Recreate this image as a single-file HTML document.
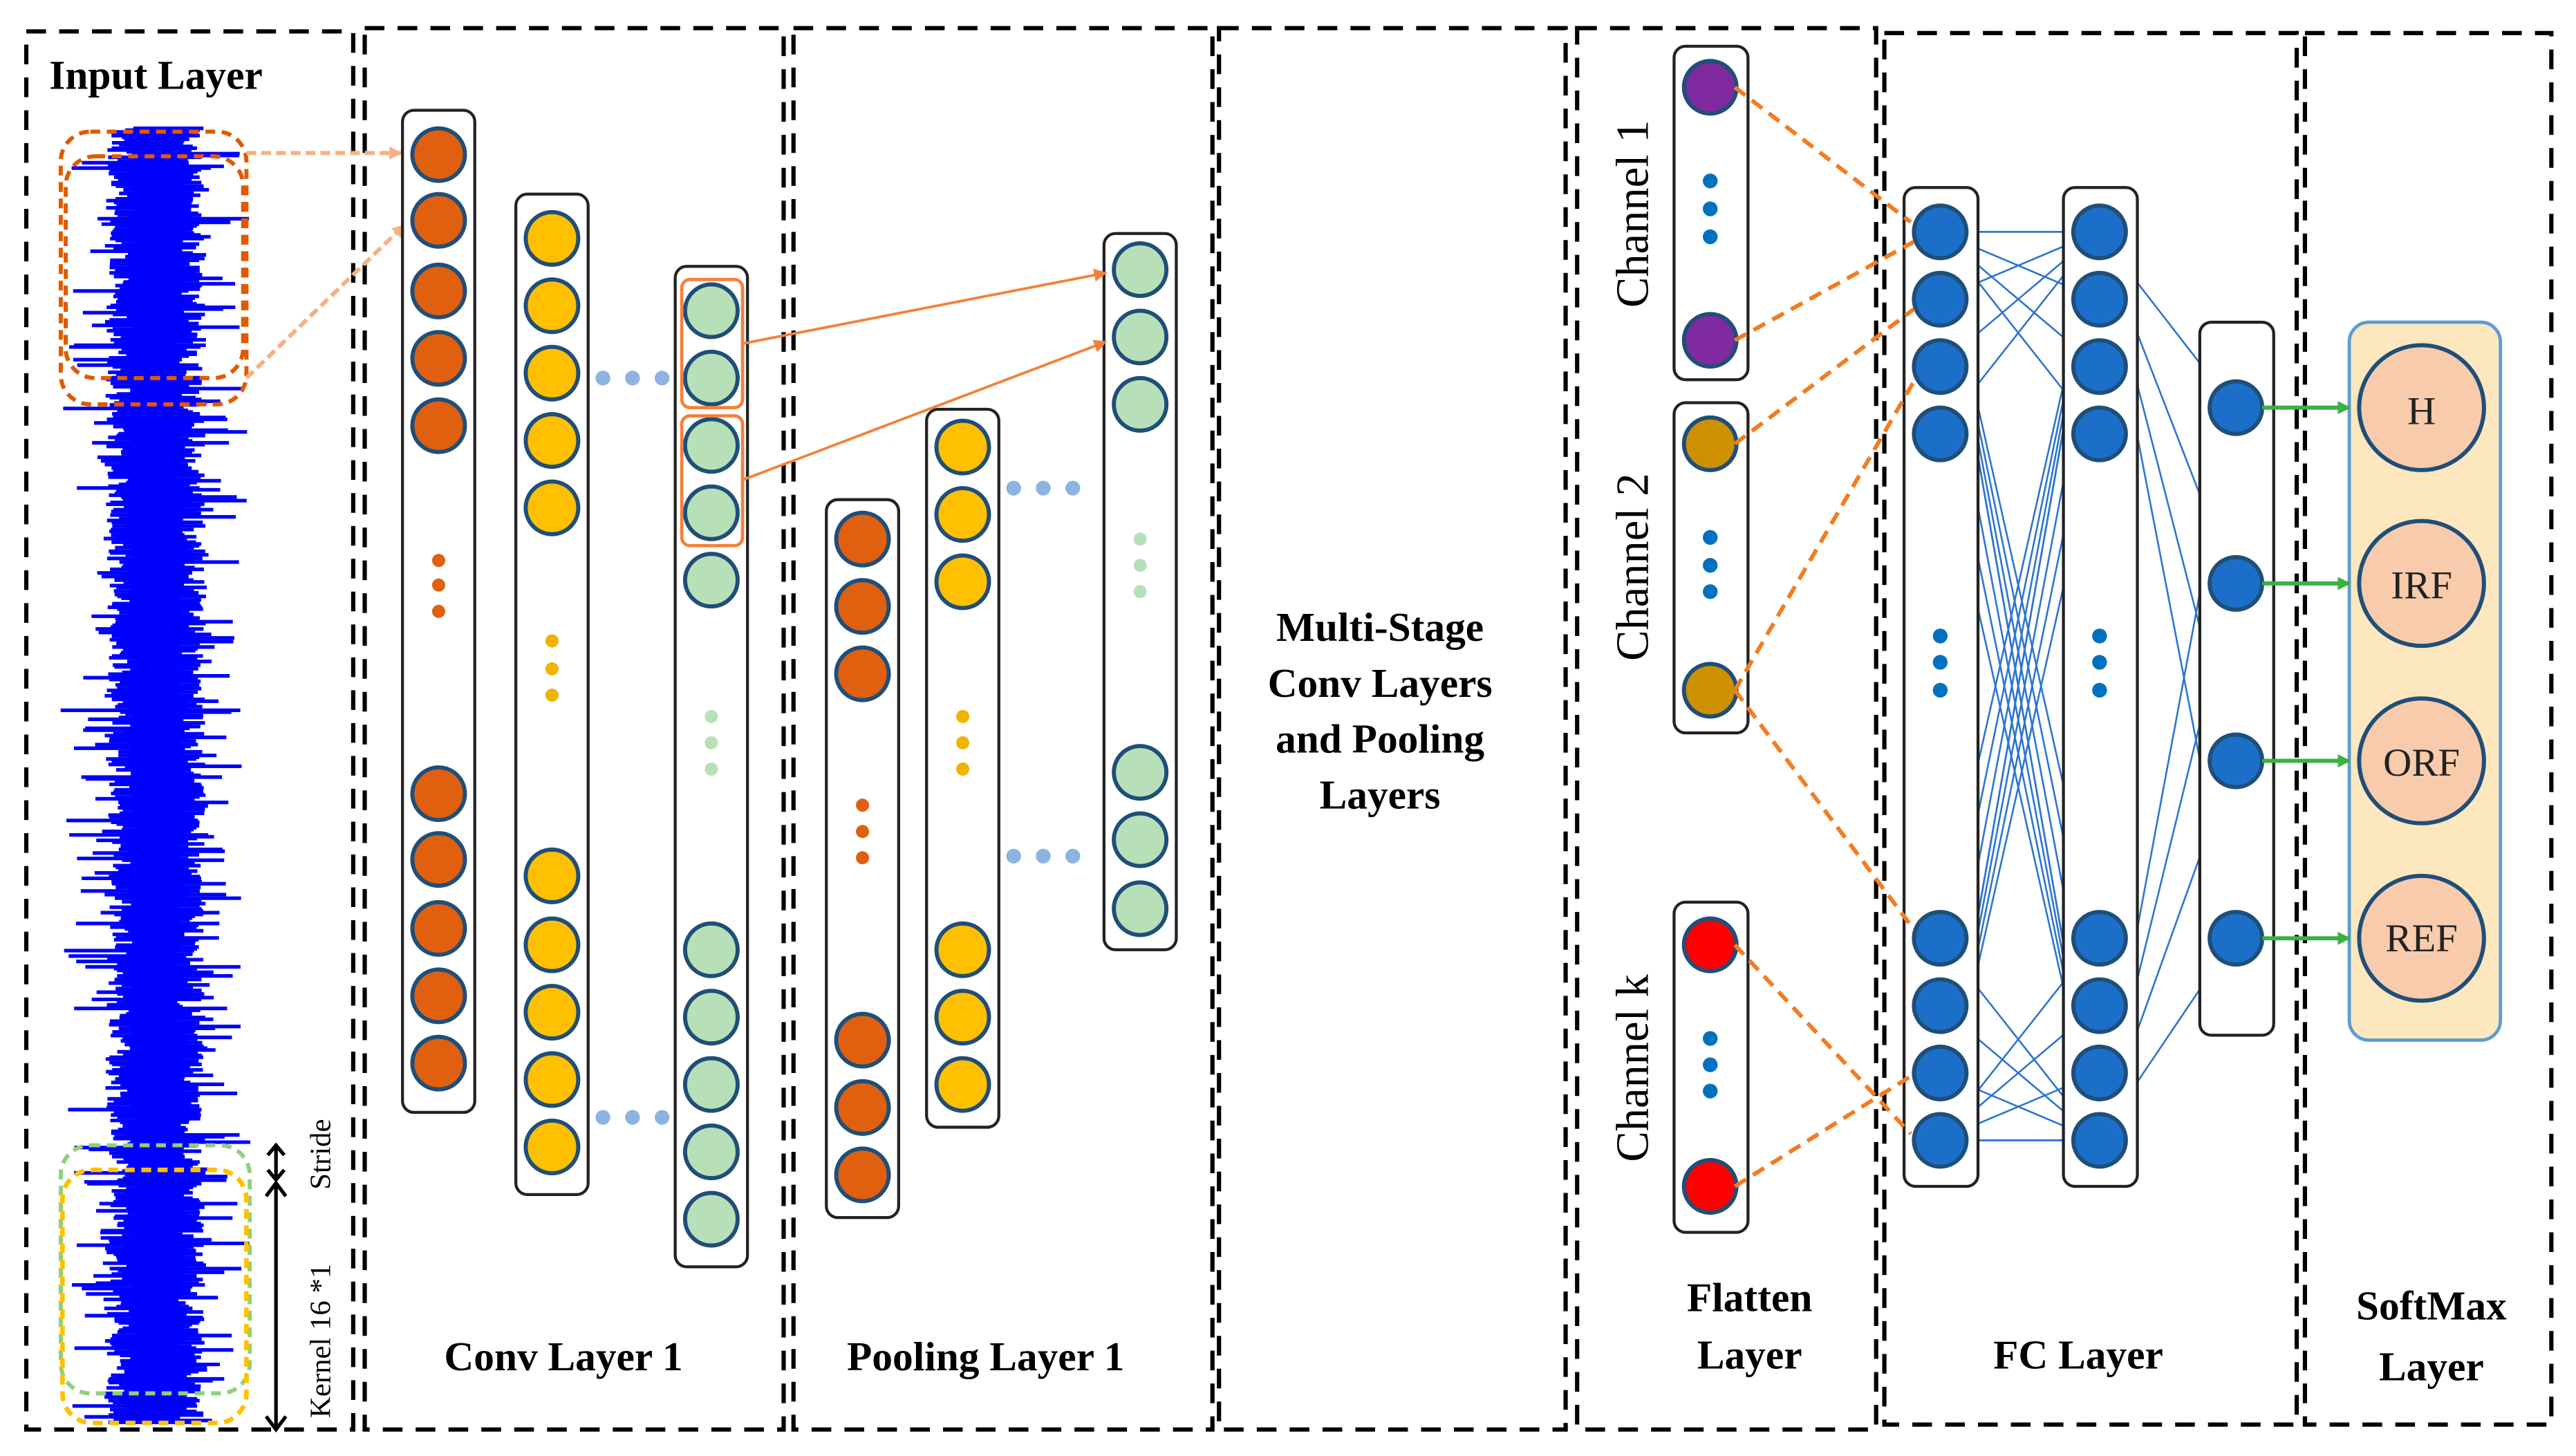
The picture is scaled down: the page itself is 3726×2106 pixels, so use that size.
<!DOCTYPE html>
<html><head><meta charset="utf-8">
<style>
html,body{margin:0;padding:0;background:#fff;}
svg{display:block;}
text{font-family:"Liberation Serif",serif;}
.b{font-weight:bold;font-size:25px;fill:#000;}
</style></head>
<body>
<svg id="s" width="3726" height="2106" viewBox="0 0 1568 886" xmlns="http://www.w3.org/2000/svg">
<defs>
<marker id="ao" markerWidth="8" markerHeight="8" refX="7" refY="4" orient="auto" markerUnits="userSpaceOnUse"><path d="M0,0 L8,4 L0,8 z" fill="#F4B183"/></marker>
<marker id="ao2" markerWidth="8" markerHeight="8" refX="7" refY="4" orient="auto" markerUnits="userSpaceOnUse"><path d="M0,0 L8,4 L0,8 z" fill="#F08040"/></marker>
<marker id="ag" markerWidth="8" markerHeight="8" refX="7" refY="4" orient="auto" markerUnits="userSpaceOnUse"><path d="M0,0 L8,4 L0,8 z" fill="#3CB043"/></marker>
</defs>
<g fill="none" stroke="#000" stroke-width="2.6" stroke-dasharray="12,8">
<rect x="16" y="19" width="199" height="851"/>
<rect x="222" y="17" width="255" height="853"/>
<rect x="483" y="17" width="255" height="853"/>
<rect x="742" y="17" width="211" height="853"/>
<rect x="960" y="17" width="182" height="853"/>
<rect x="1147" y="20" width="251" height="847"/>
<rect x="1403" y="20" width="150" height="847"/>
</g>
<g id="wave" stroke="#0000FF" stroke-width="2.2"></g>
<rect x="37" y="80" width="113" height="166" rx="18" fill="none" stroke="#E05A00" stroke-width="2.5" stroke-dasharray="6,4"/>
<rect x="40" y="95" width="108" height="135" rx="18" fill="none" stroke="#E05A00" stroke-width="2.5" stroke-dasharray="6,4"/>
<rect x="37" y="697" width="115" height="151" rx="18" fill="none" stroke="#8FD07A" stroke-width="2.5" stroke-dasharray="6,4"/>
<rect x="38" y="712" width="112" height="154" rx="18" fill="none" stroke="#FFC000" stroke-width="2.8" stroke-dasharray="6,4"/>
<g stroke="#000" stroke-width="2.2" fill="none">
<line x1="168" y1="697" x2="168" y2="718"/>
<path d="M163,703 L168,697 L173,703 M163,712 L168,718 L173,712"/>
<line x1="168" y1="720" x2="168" y2="870"/>
<path d="M162,728 L168,720 L174,728 M162,862 L168,870 L174,862"/>
</g>
<text transform="translate(201,724) rotate(-90)" font-size="18" fill="#000">Stride</text>
<text transform="translate(201,863) rotate(-90)" font-size="18" fill="#000">Kernel 16 *1</text>
<text x="30" y="54" class="b" font-size="24">Input Layer</text>
<line x1="150" y1="93" x2="244" y2="93" stroke="#F4B183" stroke-width="2.5" stroke-dasharray="6,3" marker-end="url(#ao)"/>
<line x1="150" y1="230" x2="246" y2="137" stroke="#F4B183" stroke-width="2.5" stroke-dasharray="6,3" marker-end="url(#ao)"/>
<g id="cols"></g>
<rect x="415" y="170" width="37" height="78" rx="5" fill="none" stroke="#F4813A" stroke-width="2"/>
<rect x="415" y="253" width="37" height="79" rx="5" fill="none" stroke="#F4813A" stroke-width="2"/>
<line x1="452" y1="209" x2="673" y2="166" stroke="#F4813A" stroke-width="1.6" marker-end="url(#ao2)"/>
<line x1="452" y1="292" x2="673" y2="208" stroke="#F4813A" stroke-width="1.6" marker-end="url(#ao2)"/>
<g class="b" text-anchor="middle">
<text x="840" y="390">Multi-Stage</text>
<text x="840" y="424">Conv Layers</text>
<text x="840" y="458">and Pooling</text>
<text x="840" y="492">Layers</text>
<text x="343" y="834">Conv Layer 1</text>
<text x="600" y="834">Pooling Layer 1</text>
<text x="1065" y="798">Flatten</text>
<text x="1065" y="833">Layer</text>
<text x="1265" y="833">FC Layer</text>
<text x="1480" y="803">SoftMax</text>
<text x="1480" y="840">Layer</text>
</g>
<g font-size="28" fill="#000" text-anchor="middle">
<text transform="translate(1003,130) rotate(-90)">Channel 1</text>
<text transform="translate(1003,345) rotate(-90)">Channel 2</text>
<text transform="translate(1003,650) rotate(-90)">Channel k</text>
</g>
<rect x="1430" y="196" width="92" height="437" rx="12" fill="#FCE7BE" stroke="#5B9BD5" stroke-width="2"/>
<g id="fc"></g>
<g font-size="24" fill="#222" text-anchor="middle">
<text x="1474" y="258">H</text>
<text x="1474" y="364">IRF</text>
<text x="1474" y="472">ORF</text>
<text x="1474" y="579">REF</text>
</g>
</svg>
<script>
var NS="http://www.w3.org/2000/svg";
function el(p,t,a){var e=document.createElementNS(NS,t);for(var k in a)e.setAttribute(k,a[k]);p.appendChild(e);return e;}
var seed=7;function r(){seed=(seed*16807)%2147483647;return seed/2147483647;}
var w=document.getElementById('wave');
for(var y=78;y<866;y+=1.1){
 var a=14+r()*16, b=14+r()*16;
 if(r()<0.15)a+=r()*30; if(r()<0.15)b+=r()*30;
 if(r()<0.01)b+=30;
 var c=95+(r()-0.5)*4;
 el(w,'line',{x1:c-a,y1:y,x2:c+b,y2:y});
}
var g=document.getElementById('cols');
function col(x,y1,y2,ys,dots,fill,dcol){
 el(g,'rect',{x:x-22,y:y1,width:44,height:y2-y1,rx:7,fill:'#fff',stroke:'#222','stroke-width':1.8});
 ys.forEach(function(y){el(g,'circle',{cx:x,cy:y,r:16,fill:fill,stroke:'#1F4E79','stroke-width':2.5});});
 dots.forEach(function(y){el(g,'circle',{cx:x,cy:y,r:4,fill:dcol});});
}
var O='#E06010',Y='#FFC000',G='#B8E0B8';
col(267,67,677,[94,134,177,218,259,483,523,565,606,647],[341,356,372],O,O);
col(336,118,727,[145,186,227,268,309,533,575,616,657,698],[390,407,423],Y,'#F0B400');
col(433,162,771,[189,230,271,312,353,578,619,660,701,742],[436,452,468],G,'#B8E0B8');
col(525,304,741,[328,369,410,633,674,715],[490,506,522],O,O);
col(586,249,686,[272,313,354,578,619,660],[436,452,468],Y,'#F0B400');
col(694,142,578,[164,205,246,470,511,553],[328,344,360],G,'#B8E0B8');
[[367,230],[367,680],[617,297],[617,521]].forEach(function(p){for(var i=0;i<3;i++)el(g,'circle',{cx:p[0]+i*18,cy:p[1],r:4.5,fill:'#8DB3E2'});});
var f=document.getElementById('fc');
var B='#1B6FC8';
function fcol(x,y1,y2,ys,dots,fill){
 el(f,'rect',{x:x-22,y:y1,width:45,height:y2-y1,rx:7,fill:'#fff',stroke:'#222','stroke-width':1.8});
 ys.forEach(function(y){el(f,'circle',{cx:x,cy:y,r:16,fill:fill,stroke:'#1F4E79','stroke-width':2.5});});
 dots.forEach(function(y){el(f,'circle',{cx:x,cy:y,r:4.5,fill:'#0070C0'});});
}
fcol(1041,28,231,[53,207],[110,127,144],'#7F2A9E');
fcol(1041,245,446,[270,420],[327,344,360],'#CC9000');
fcol(1041,549,750,[575,722],[632,648,664],'#FF0000');
var c1=[141,182,223,264,571,612,653,694], c3=[248,355,463,571];
var L=el(f,'g',{stroke:'#2E75D0','stroke-width':1.1});
[141,694].forEach(function(a){c1.forEach(function(b){el(L,'line',{x1:1180,y1:a,x2:1277,y2:b});});});
c1.forEach(function(a){[141,694].forEach(function(b){el(L,'line',{x1:1180,y1:a,x2:1277,y2:b});});});
[141,694].forEach(function(a){c3.forEach(function(b){el(L,'line',{x1:1277,y1:a,x2:1360,y2:b});});});
fcol(1181,114,722,c1,[387,403,420],B);
fcol(1278,114,722,c1,[387,403,420],B);
fcol(1361,196,630,c3,[],B);
var D=el(f,'g',{stroke:'#F47C20','stroke-width':2.5,'stroke-dasharray':'8,5',fill:'none'});
[[1056,53,1163,135],[1056,207,1165,147],[1056,270,1165,188],[1056,420,1165,232],[1056,420,1163,563],[1056,575,1163,690],[1056,722,1163,655]].forEach(function(l){el(D,'line',{x1:l[0],y1:l[1],x2:l[2],y2:l[3]});});
c3.forEach(function(y){el(f,'line',{x1:1377,y1:y,x2:1430,y2:y,stroke:'#3CB043','stroke-width':2.5,'marker-end':'url(#ag)'});
 el(f,'circle',{cx:1474,cy:y,r:38,fill:'#F8CBAD',stroke:'#1F4E79','stroke-width':2.5});});
</script>
</body></html>
